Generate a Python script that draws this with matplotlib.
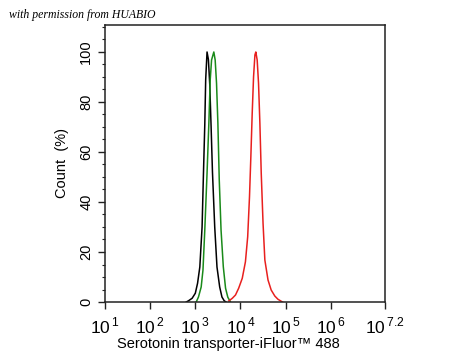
import numpy as np
import matplotlib.pyplot as plt
from matplotlib.ticker import MultipleLocator, LogLocator, NullFormatter

# histogram outlines, x given as log10(intensity), y as count (%)
black_log = [2.80, 2.85, 2.93, 3.00, 3.05, 3.10, 3.15, 3.18, 3.21, 3.23, 3.26,
             3.29, 3.32, 3.35, 3.38, 3.43, 3.48, 3.54, 3.59, 3.64, 3.68]
black_pct = [0, 0.5, 1.5, 3.5, 7.5, 14, 30, 51, 71, 89, 100,
             97, 87, 70, 52, 30, 14, 6, 2, 0.5, 0]

green_log = [3.02, 3.07, 3.13, 3.17, 3.21, 3.26, 3.30, 3.33, 3.36, 3.41,
             3.44, 3.47, 3.50, 3.53, 3.57, 3.62, 3.67, 3.72, 3.78]
green_pct = [0, 2, 6, 12.8, 28.8, 51.5, 71.5, 88.8, 96.8, 100,
             96.8, 87.5, 71.5, 49, 28.8, 14.1, 5.5, 1.9, 0]

red_log = [3.74, 3.82, 3.89, 3.96, 4.04, 4.11, 4.16, 4.20, 4.23, 4.26, 4.29,
           4.32, 4.34, 4.37, 4.40, 4.43, 4.46, 4.50, 4.54, 4.61, 4.68, 4.76,
           4.83, 4.93]
red_pct = [0.4, 1.5, 2.8, 5.5, 9.5, 16.1, 26.1, 42.1, 58.1, 75.5, 90.1,
           98.8, 100, 96.8, 87.5, 71.5, 51.5, 31.5, 16.8, 8.8, 4.8, 2.4,
           1.1, 0]

xtick_exp = [1, 2, 3, 4, 5, 6, 7.2]
xtick_labels = [r'$10^{\,1}$', r'$10^{\,2}$', r'$10^{\,3}$', r'$10^{\,4}$',
                r'$10^{\,5}$', r'$10^{\,6}$', r'$10^{\,7.2}$']

plt.rcParams['font.family'] = ['Liberation Sans', 'DejaVu Sans']
plt.rcParams['mathtext.fontset'] = 'custom'
plt.rcParams['mathtext.rm'] = 'Liberation Sans'

fig = plt.figure(figsize=(4.5, 3.6), dpi=100)
ax = fig.add_axes([0.2333, 0.1611, 0.6222, 0.7695])

ax.plot(10 ** np.array(black_log), black_pct, color='black', lw=1.1)
ax.plot(10 ** np.array(green_log), green_pct, color='#1a8a1a', lw=1.1)
ax.plot(10 ** np.array(red_log), red_pct, color='#e8201e', lw=1.1)

ax.set_xscale('log')
ax.set_xlim(10, 10 ** 7.2)
ax.set_ylim(0, 110.8)

ax.set_xticks([10 ** e for e in xtick_exp])
ax.set_xticklabels(xtick_labels, fontsize=12.5)
ax.xaxis.set_minor_locator(LogLocator(base=10, subs=np.arange(2, 10)))
ax.xaxis.set_minor_formatter(NullFormatter())

ax.set_yticks([0, 20, 40, 60, 80, 100])
ax.yaxis.set_minor_locator(MultipleLocator(5))
for lab in ax.get_yticklabels():
    lab.set_rotation(90)
    lab.set_va('center')
ax.tick_params(axis='y', labelsize=10.5)

ax.tick_params(which='major', direction='out', length=5, width=1, color='#222222')
ax.tick_params(which='minor', direction='out', length=2.5, width=0.8, color='#222222')
ax.tick_params(axis='x', pad=5)

for s in ax.spines.values():
    s.set_linewidth(1.1)
    s.set_color('#222222')

ax.set_ylabel('Count  (%)', fontsize=10.5)
ax.yaxis.set_label_coords(-0.13, 0.5)
ax.set_xlabel('Serotonin transporter-iFluor\u2122 488', fontsize=10.5)
ax.xaxis.set_label_coords(0.44, -0.125)

fig.text(0.02, 0.958, 'with permission from HUABIO', fontsize=8.5,
         family='Liberation Serif', style='italic', va='center')

fig.savefig('out.png', dpi=100)
